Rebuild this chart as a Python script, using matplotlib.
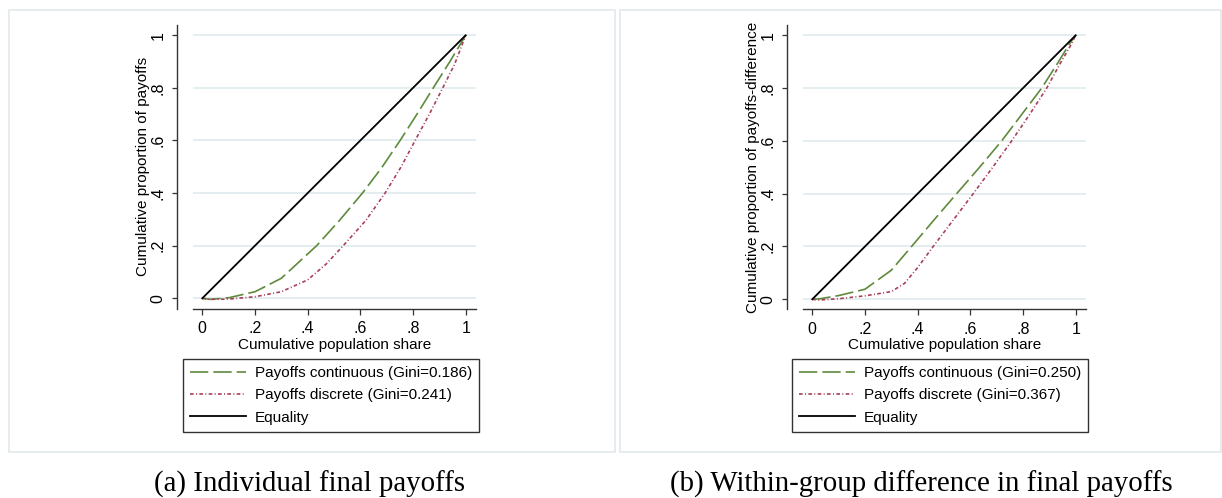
import matplotlib.pyplot as plt
from matplotlib.patches import Rectangle
from matplotlib.lines import Line2D

plt.rcParams['font.family'] = ['Liberation Sans', 'DejaVu Sans']

# ---- DATA ----
ticks = [0, 0.2, 0.4, 0.6, 0.8, 1]
tick_labels = ['0', '.2', '.4', '.6', '.8', '1']

# panel (a): individual final payoffs
x_cont_a = [0, 0.03, 0.1, 0.2, 0.3, 0.434, 0.52, 0.608, 0.68, 0.751, 0.815, 0.877, 0.94, 1]
y_cont_a = [0, -0.004, 0.002, 0.025, 0.076, 0.2, 0.295, 0.4, 0.495, 0.6, 0.7, 0.8, 0.9, 1]
x_disc_a = [0, 0.03, 0.1, 0.2, 0.3, 0.4, 0.47, 0.535, 0.62, 0.694, 0.755, 0.808, 0.862, 0.913, 0.958, 1]
y_disc_a = [0, -0.004, -0.003, 0.006, 0.025, 0.07, 0.13, 0.2, 0.295, 0.4, 0.5, 0.6, 0.7, 0.8, 0.89, 1]

# panel (b): within-group difference in final payoffs
x_cont_b = [0, 0.03, 0.1, 0.2, 0.3, 0.377, 0.46, 0.548, 0.635, 0.719, 0.795, 0.871, 0.935, 0.978, 1]
y_cont_b = [0, 0.002, 0.014, 0.038, 0.11, 0.2, 0.298, 0.4, 0.5, 0.6, 0.7, 0.8, 0.9, 0.97, 1]
x_disc_b = [0, 0.023, 0.1, 0.2, 0.3, 0.35, 0.4, 0.459, 0.535, 0.611, 0.685, 0.757, 0.825, 0.89, 0.945, 0.98, 1]
y_disc_b = [0, -0.003, 0.002, 0.013, 0.029, 0.06, 0.12, 0.2, 0.3, 0.4, 0.5, 0.6, 0.7, 0.8, 0.9, 0.96, 1]

gini_a = ['0.186', '0.241']
gini_b = ['0.250', '0.367']
ylabels = ['Cumulative proportion of payoffs', 'Cumulative proportion of payoffs-difference']
captions = ['(a) Individual final payoffs', '(b) Within-group difference in final payoffs']

GREEN = '#5f8a3c'
MAROON = '#a8405a'
W, H = 1222, 498

fig = plt.figure(figsize=(W / 100, H / 100), dpi=100)


def px_rect(x0, y0, x1, y1):
    # pixel box (top-left origin) -> figure fraction [l, b, w, h]
    return [x0 / W, 1 - y1 / H, (x1 - x0) / W, (y1 - y0) / H]


# light panel frames
for x0, x1 in [(8.5, 614.5), (619.5, 1221)]:
    l, b, w, h = px_rect(x0, 10, x1, 451.5)
    fig.add_artist(Rectangle((l, b), w, h, transform=fig.transFigure,
                             fill=False, edgecolor='#e3e9eb', lw=1.2))


def panel(rect, xc, yc, xd, yd, gini, ylabel, ylim, legend_xy, caption, cap_x):
    ax = fig.add_axes(px_rect(*rect))
    ax.plot(xc, yc, color=GREEN, lw=1.2, dashes=(11, 3))
    ax.plot(xd, yd, color=MAROON, lw=1.2, dashes=(2.2, 1.4, 0.6, 1.4))
    ax.plot([0, 1], [0, 1], color='black', lw=1.3)

    ax.set_xlim(-0.0364, 1.038)
    ax.set_ylim(*ylim)
    ax.set_xticks(ticks, tick_labels)
    ax.set_yticks(ticks, tick_labels)
    ax.yaxis.grid(True, color='#e2edf0', lw=1.3)
    ax.set_axisbelow(True)

    for s in ['top', 'right']:
        ax.spines[s].set_visible(False)
    ax.spines['left'].set_position(('outward', 11.5))
    for s in ['left', 'bottom']:
        ax.spines[s].set_color('#333333')
        ax.spines[s].set_linewidth(1.0)

    ax.tick_params(axis='both', colors='#333333', labelcolor='black',
                   labelsize=11.5, width=0.9)
    ax.tick_params(axis='y', length=3.6, pad=4.5)
    ax.tick_params(axis='x', length=4.5, pad=4.5)
    plt.setp(ax.get_yticklabels(), rotation=90, va='center')

    ax.set_xlabel('Cumulative population share', fontsize=11, labelpad=1)
    ax.set_ylabel(ylabel, fontsize=11, labelpad=0)

    handles = [
        Line2D([], [], color=GREEN, lw=1.2, dashes=(11, 3)),
        Line2D([], [], color=MAROON, lw=1.2, dashes=(2.2, 1.4, 0.6, 1.4)),
        Line2D([], [], color='black', lw=1.3),
    ]
    labels = [f'Payoffs continuous (Gini={gini[0]})',
              f'Payoffs discrete (Gini={gini[1]})', 'Equality']
    leg = ax.legend(handles, labels, loc='upper left',
                    bbox_to_anchor=(legend_xy[0] / W, 1 - legend_xy[1] / H),
                    bbox_transform=fig.transFigure, fontsize=11,
                    fancybox=False, edgecolor='#333333', framealpha=1,
                    borderaxespad=0, borderpad=0.45, handlelength=3.7,
                    handletextpad=0.55, labelspacing=0.55)
    leg.get_frame().set_linewidth(1.0)

    fig.text(cap_x / W, 1 - 484 / H, caption, ha='center', va='center',
             family=['Liberation Serif', 'DejaVu Serif'], fontsize=20.8)
    return ax


panel((192.7, 25, 475.7, 308.7), x_cont_a, y_cont_a, x_disc_a, y_disc_a,
      gini_a, ylabels[0], (-0.0395, 1.039), (183, 359), captions[0], 310)
panel((802.7, 25, 1085.7, 309.3), x_cont_b, y_cont_b, x_disc_b, y_disc_b,
      gini_b, ylabels[1], (-0.038, 1.039), (792, 359), captions[1], 921)

fig.savefig('out.png', dpi=100)
